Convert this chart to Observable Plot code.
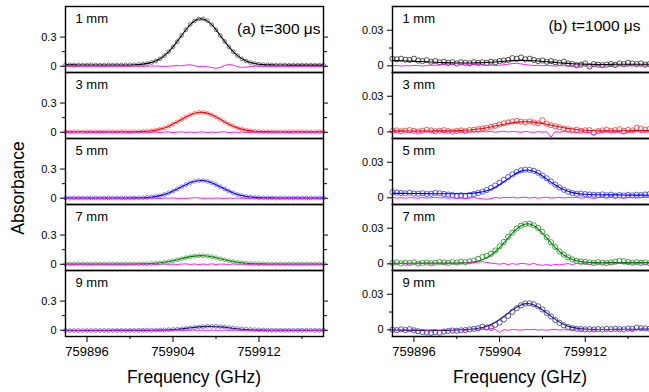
<!DOCTYPE html>
<html><head><meta charset="utf-8">
<script src="https://cdn.jsdelivr.net/npm/d3@7"></script>
<script src="https://cdn.jsdelivr.net/npm/@observablehq/plot@0.6"></script>
<style>
body{margin:0;background:#fff;}
#wrap{position:relative;width:649px;height:392px;overflow:hidden;font-family:"Liberation Sans",Arial,sans-serif;color:#000;}
#wrap svg{position:absolute;top:0;}
.lab{position:absolute;font-size:17.5px;white-space:nowrap;transform:translate(-50%,-50%);}
</style></head><body><div id="wrap"></div>
<script>
// ---------- data ----------
const distances = ["1 mm","3 mm","5 mm","7 mm","9 mm"];
const dotColors = ["#2a2a2a","#ff3030","#3535ff","#1a8a1a","#34349a"];
const lineColors = ["#000000","#ff0000","#0000ff","#008000","#1a1a80"];
const residualColor = "#ff00ff";
const titles = ["(a) t=300 \u03bcs","(b) t=1000 \u03bcs"];
const xMajor = [759896, 759904, 759912];
const xMinor = [759900, 759908, 759916];
const yMajorLeft = [0, 0.3], yMinorLeft = [0.15];
const yMajorRight = [0, 0.03], yMinorRight = [0.015];

// frequency grid of the measured points (GHz)
const freq = [759894,759894.4,759894.8,759895.2,759895.6,759896,759896.4,759896.8,759897.2,759897.6,
759898,759898.4,759898.8,759899.2,759899.6,759900,759900.4,759900.8,759901.2,759901.6,
759902,759902.4,759902.8,759903.2,759903.6,759904,759904.4,759904.8,759905.2,759905.6,
759906,759906.4,759906.8,759907.2,759907.6,759908,759908.4,759908.8,759909.2,759909.6,
759910,759910.4,759910.8,759911.2,759911.6,759912,759912.4,759912.8,759913.2,759913.6,
759914,759914.4,759914.8,759915.2,759915.6,759916,759916.4,759916.8,759917.2,759917.6,759918];
// frequency grid of the fitted curves (GHz)
const fitFreq = [759894,759894.8,759895.6,759896.4,759897.2,759898,759898.8,759899.6,759900.4,759901.2,
759902,759902.8,759903.6,759904.4,759905.2,759906,759906.8,759907.6,759908.4,759909.2,
759910,759910.8,759911.6,759912.4,759913.2,759914,759914.8,759915.6,759916.4,759917.2,759918];

// (a) t = 300 us : measured absorbance
const a1mm = [.014,.015,.013,.014,.012,.013,.014,.013,.012,.013,
.014,.013,.012,.013,.014,.015,.016,.018,.022,.028,
.038,.054,.077,.109,.150,.199,.253,.316,.375,.430,
.465,.485,.487,.468,.427,.375,.316,.256,.199,.150,
.109,.077,.054,.038,.027,.021,.017,.015,.013,.012,
.013,.012,.011,.012,.013,.012,.011,.012,.011,.012,.011];
const a3mm = [.005,.004,.006,.005,.004,.005,.006,.005,.004,.005,
.006,.005,.004,.005,.006,.005,.006,.007,.009,.011,
.016,.022,.032,.045,.063,.083,.107,.133,.157,.179,
.195,.204,.204,.195,.179,.157,.133,.107,.083,.063,
.045,.032,.022,.016,.011,.009,.007,.006,.005,.004,
.005,.006,.005,.004,.005,.006,.005,.004,.005,.006,.005];
const a5mm = [.003,.002,.004,.003,.002,.003,.004,.003,.002,.003,
.004,.003,.003,.004,.003,.004,.004,.005,.006,.009,
.013,.019,.027,.039,.055,.074,.095,.118,.140,.160,
.174,.182,.182,.174,.160,.140,.118,.095,.074,.055,
.039,.027,.019,.013,.009,.006,.005,.004,.003,.002,
.003,.004,.003,.002,.003,.003,.002,.003,.004,.003,.002];
const a7mm = [.003,.002,.003,.004,.003,.002,.003,.003,.002,.003,
.004,.003,.002,.003,.003,.002,.003,.004,.005,.006,
.008,.010,.015,.020,.028,.036,.047,.057,.068,.077,
.084,.088,.088,.084,.077,.068,.057,.047,.036,.028,
.020,.015,.010,.008,.006,.005,.004,.003,.003,.002,
.003,.003,.004,.003,.002,.003,.003,.002,.003,.004,.003];
const a9mm = [-.002,-.003,-.002,-.002,-.003,-.002,-.002,-.001,-.002,-.002,
-.001,-.002,-.001,-.001,-.002,-.001,-.001,0,0,.001,
.001,.002,.003,.004,.006,.008,.011,.014,.018,.023,
.028,.033,.037,.040,.041,.040,.037,.033,.028,.023,
.018,.014,.011,.008,.006,.004,.003,.002,.001,.001,
0,.001,0,0,.001,0,0,.001,0,0,.001];
// (a) fitted curves
const a1mmFit = [.014,.014,.013,.013,.013,.013,.013,.013,.015,.022,
.038,.077,.150,.256,.375,.465,.485,.427,.316,.199,
.109,.054,.028,.017,.014,.013,.012,.012,.012,.012,.012];
const a3mmFit = [.005,.005,.005,.005,.005,.005,.005,.005,.006,.009,
.016,.032,.063,.107,.157,.195,.204,.179,.133,.083,
.045,.022,.011,.007,.006,.005,.005,.005,.005,.005,.005];
const a5mmFit = [.003,.003,.003,.003,.003,.003,.003,.003,.004,.006,
.013,.027,.055,.095,.140,.174,.182,.160,.118,.074,
.039,.019,.009,.005,.004,.003,.003,.003,.003,.003,.003];
const a7mmFit = [.003,.003,.003,.003,.003,.003,.003,.003,.003,.005,
.008,.015,.028,.047,.068,.084,.088,.077,.057,.036,
.020,.010,.006,.004,.003,.003,.003,.003,.003,.003,.003];
const a9mmFit = [-.002,-.002,-.002,-.002,-.0018,-.0016,-.0015,-.0013,-.0012,-.0009,
-.0003,.0012,.0046,.0108,.0198,.0299,.0375,.0393,.0344,.0252,
.0154,.0079,.0033,.0011,.0004,.0001,0,0,0,0,0];
// (a) residuals
const a1mmRes = [0,.001,-.001,0,.002,0,-.001,.001,0,-.002,
0,.001,.002,0,-.001,0,.002,.001,-.001,0,
.002,.003,0,-.002,0,.004,.008,.004,.012,.016,
.006,-.004,.002,-.006,-.012,-.02,-.014,.008,.018,.012,
-.004,-.012,-.008,-.003,0,.002,-.001,.001,0,-.001,
0,.001,0,-.001,0,0,.001,0,-.001,0,0];
const a3mmRes = [0,-.001,.001,0,.002,-.001,0,.001,-.002,0,
.001,0,-.001,.002,0,-.002,.001,0,.002,-.001,
0,.003,-.002,.001,.004,-.003,.002,.005,-.002,.003,
-.004,.002,.004,-.003,.002,-.002,.003,.005,-.004,.002,
-.001,.002,0,-.002,.001,0,-.001,.002,0,-.001,
.001,0,-.002,.001,0,.001,-.001,0,.001,0,0];
const a5mmRes = [0,.001,0,-.001,0,.001,0,-.001,.001,0,
-.001,0,.001,0,-.001,0,.001,.002,0,-.002,
.001,0,-.002,.002,0,.003,-.002,.001,-.003,.002,
.006,.004,-.003,.002,-.002,.003,0,-.003,.002,-.001,
.002,0,-.002,.001,0,-.001,.001,0,0,.001,
0,-.001,0,.001,0,0,-.001,0,.001,0,0];
const a7mmRes = [.001,0,-.001,0,.001,0,-.001,0,.001,0,
0,-.001,.001,0,-.001,.001,0,.002,-.001,0,
.002,-.002,.001,.003,-.002,.002,-.003,.002,.004,-.002,
.003,-.003,.002,-.002,.004,-.003,.002,.001,-.002,.003,
-.001,.002,0,-.002,.001,0,.001,-.001,0,.001,
0,-.001,.001,0,0,-.001,.001,0,0,-.001,0];
const a9mmRes = [0,.001,0,-.001,0,.001,-.001,0,.001,0,
0,-.001,.001,0,0,.001,-.001,0,.001,0,
-.001,.001,0,.002,-.001,.001,.002,-.002,.001,0,
.002,-.001,.001,-.002,.002,0,-.001,.002,-.001,.001,
0,-.001,.001,0,-.001,.001,0,0,-.001,0,
.001,0,0,-.001,0,.001,0,-.001,0,0,0];

// (b) t = 1000 us : measured absorbance
const b1mm = [.006,.0055,.006,.0052,.005,.006,.0045,.004,.0048,.0035,
.004,.003,.0035,.0025,.003,.002,.003,.0025,.0022,.003,
.0025,.003,.0025,.0035,.003,.004,.0045,.005,.0065,.006,
.007,.0055,.006,.005,.004,.0045,.0035,.004,.003,.0025,
.0035,.002,.0015,.0005,.001,.002,-.0005,.0015,.001,.0005,
.001,.0015,.0008,.002,.0015,.0025,.002,.0015,.002,.001,.0015];
const b3mm = [.0008,.0012,.0005,.001,.0015,.0008,.0003,.001,.0018,.0012,
.0005,.0009,.0014,.0007,.0002,.0008,.0012,.0006,.0015,.0018,
.0022,.0028,.0034,.0042,.0051,.0062,.0072,.0079,.0088,.0092,
.0086,.0082,.0088,.0079,.0072,.0098,.0068,.0056,.0046,.0038,
.0028,.0022,.0012,.0018,.0008,.0012,.0015,-.0004,.0006,.0012,
.0018,.0009,.0014,.0022,.0008,.0016,.0012,.0035,.0028,.0018,.0024];
const b5mm = [.0048,.0044,.0041,.0038,.0043,.0036,.0034,.0039,.0032,.0035,
.0042,.0038,.0033,.0028,.0024,.0018,.0022,.0016,.0025,.0032,
.0041,.0052,.0066,.0085,.0104,.0128,.0152,.0175,.0198,.0218,
.0232,.0238,.0236,.0228,.0212,.0188,.0165,.0138,.0112,.0088,
.0068,.0052,.0041,.0034,.0036,.0031,.0028,.0026,.0024,.0029,
.0022,.0027,.0019,.0024,.002,.0025,.0021,.0026,.0023,.0028,.0032];
const b7mm = [.0008,.0012,.0004,.0009,.0006,.0013,.0002,.0008,.0011,.0005,
.001,.0016,.0012,.0008,.0015,.0011,.0018,.0014,.0021,.0028,
.0042,.0058,.0068,.0085,.0112,.0148,.0185,.0228,.0262,.0298,
.0322,.0336,.0338,.0325,.0302,.0268,.0225,.0182,.0142,.0105,
.0078,.0055,.0038,.0026,.002,.0016,.0012,.0008,.0014,.001,
.0007,.0012,.0018,.0025,.0022,.0015,.0009,.0013,.0008,.0012,.0006];
const b9mm = [.0002,-.0003,.0004,-.0002,.0006,-.0004,-.0012,-.0018,-.0022,-.0026,
-.0019,-.0024,-.0015,-.001,-.0006,-.0008,-.0004,-.0002,.0004,.0008,
.0014,.0026,.0019,.0016,.0042,.0062,.0088,.0118,.0152,.0182,
.0206,.0222,.0224,.0216,.0198,.0172,.0142,.0112,.0082,.0058,
.0038,.0024,.0014,.0009,.0006,.0004,.0005,.0003,.0006,.0004,
.0008,.0005,.0009,.0006,.0004,.0011,.0008,.0018,.0014,.0012,.0009];
// (b) fitted curves
const b1mmFit = [.0045,.0043,.004,.0037,.0034,.003,.0027,.0025,.0024,.0024,
.0025,.0028,.0033,.0039,.0044,.0046,.0045,.0041,.0035,.0029,
.0023,.0018,.0015,.0013,.0012,.0012,.0013,.0013,.0013,.0013,.0013];
const b3mmFit = [.0008,.0008,.0007,.0007,.0007,.0008,.0008,.0009,.0011,.0016,
.0024,.0035,.0049,.0064,.0076,.0084,.0084,.0076,.0064,.0049,
.0035,.0024,.0016,.0011,.0009,.0008,.0008,.0009,.001,.0011,.0012];
const b5mmFit = [.0038,.0038,.0037,.0037,.0036,.0035,.0035,.0034,.0035,.0037,
.0044,.0059,.009,.0136,.0187,.0225,.0233,.0207,.0158,.0108,
.0068,.0044,.0032,.0028,.0026,.0025,.0025,.0024,.0023,.0023,.0022];
const b7mmFit = [.0005,.0005,.0005,.0006,.0006,.0006,.0006,.0006,.0008,.0012,
.0024,.0052,.0102,.0176,.0259,.0321,.0336,.0295,.0219,.0137,
.0075,.0037,.0019,.0012,.001,.001,.001,.001,.001,.001,.001];
const b9mmFit = [0,-.0002,-.0004,-.0005,-.0006,-.0006,-.0005,-.0003,.0001,.0004,
.0013,.0031,.0064,.0113,.0168,.021,.022,.0193,.0142,.0088,
.0046,.0021,.0009,.0004,.0003,.0003,.0004,.0005,.0005,.0006,.0007];
// (b) residuals
const b1mmRes = [0,.0003,-.0002,.0002,0,.0004,.0002,-.0001,.0003,.0006,
.0004,.0008,.0012,.0016,.0014,.0018,.0015,.0017,.0013,.0016,
.0012,.0008,.0004,.0006,.0002,.0005,.0009,.0014,.0019,.0022,
.0016,.0011,.0006,.0003,.0005,.0001,.0004,.0002,-.0002,.0003,
.0001,-.0003,.0002,-.0004,.0001,.0003,-.0002,0,.0002,-.0003,
.0001,.0003,-.0001,.0002,0,-.0002,.0003,.0001,-.0001,.0002,0];
const b3mmRes = [.0002,-.0003,.0004,0,-.0002,.0003,-.0004,.0001,.0005,-.0002,
0,.0003,-.0004,.0002,-.0001,.0004,0,-.0003,.0002,.0004,
-.0002,.0003,0,.0005,-.0003,.0002,.0006,-.0002,.0004,.0001,
-.0004,.0003,-.0001,-.0005,.0002,-.0003,.0001,-.0045,.0002,-.0004,
.0003,-.0002,.0001,-.0006,.0002,-.0003,-.0008,-.003,.0001,-.0004,
.0002,-.0003,.0001,-.0005,-.002,.0003,-.0002,.0004,-.0006,.0002,-.0003];
const b5mmRes = [.0004,-.0002,.0001,-.0003,.0002,0,-.0004,.0003,-.0002,.0001,
.0005,-.0001,.0002,-.0003,0,-.0005,-.0002,-.0006,-.0003,.0002,
-.0004,-.0008,-.0012,-.0006,.0003,-.0002,.0004,.0001,.0006,-.0002,
.0003,.0005,-.0001,.0004,-.0003,.0002,.0006,-.0002,.0001,.0004,
-.0002,.0003,.0001,.0005,-.0003,.0002,0,-.0004,.0001,.0003,
-.0002,.0004,0,.0002,-.0003,.0001,.0003,-.0001,.0002,.0004,.0001];
const b7mmRes = [.0003,-.0002,.0004,.0001,-.0003,.0005,-.0001,.0002,.0006,-.0002,
.0001,.0004,-.0003,.0002,.0005,-.0001,.0003,.0008,.0006,.0011,
.0014,.0018,.0012,.0006,.0002,-.0003,.0004,-.0006,.0002,-.0004,
.0003,.0001,-.0005,.0004,-.0008,-.0012,-.0006,-.0014,-.0004,-.0009,
-.0003,.0002,-.0006,.0004,-.0002,.0003,-.0004,.0001,.0005,-.0002,
.0003,-.0003,.0002,.0006,-.0001,.0004,-.0002,.0003,.0001,-.0003,.0002];
const b9mmRes = [.0003,-.0002,.0001,.0004,-.0003,.0002,-.0001,.0003,-.0004,.0001,
.0002,-.0003,.0004,0,-.0002,.0003,.0001,-.0004,.0002,.0003,
-.0001,.0008,.0003,.0012,.0004,-.0022,.0002,-.0003,.0004,.0001,
-.0002,.0003,.0001,.0004,-.0002,.0002,-.0003,.0001,.0004,-.0002,
.0002,-.0001,.0003,0,-.0002,.0004,.0001,-.0003,.0002,.0005,
-.0001,.0003,.0002,-.0002,.0004,.0001,-.0003,.0002,.0006,.0003,.0001];

// ---------- build tables ----------
function table(xs, series, colors) {
  const out = [];
  series.forEach((s, i) => xs.forEach((f, k) => out.push({d: distances[i], f, v: s[k], c: colors ? colors[i] : null})));
  return out;
}
const font = '"Liberation Sans", Arial, sans-serif';

function column({data, fits, res, yDomain, yMajor, yMinor, title, width, marginLeft, marginRight, r, dotWidth, titleDx, titleDy, rightFrame}) {
  const frameMarks = rightFrame
    ? [Plot.frame({stroke: "#000", strokeWidth: 1.4})]
    : [Plot.frame({anchor: "left", stroke: "#000", strokeWidth: 1.4}),
       Plot.frame({anchor: "top", stroke: "#000", strokeWidth: 1.4}),
       Plot.frame({anchor: "bottom", stroke: "#000", strokeWidth: 1.4})];
  return Plot.plot({
    width, height: 392, marginTop: 6, marginBottom: 56, marginLeft, marginRight,
    x: {domain: [759894, 759918], label: null},
    y: {domain: yDomain, label: null},
    fy: {domain: distances, axis: null, padding: 0, label: null},
    color: {type: "identity"},
    style: {fontFamily: font, fontSize: "11px", color: "#000", background: "transparent", overflow: "visible"},
    marks: [
      Plot.dot(table(freq, data, dotColors), {x: "f", y: "v", fy: "d", stroke: "c", r, strokeWidth: dotWidth}),
      Plot.line(table(fitFreq, fits, lineColors), {x: "f", y: "v", fy: "d", z: "d", stroke: "c", curve: "natural", strokeWidth: 1.1}),
      Plot.line(table(freq, res, null), {x: "f", y: "v", fy: "d", z: "d", stroke: residualColor, strokeWidth: 0.9}),
      ...frameMarks,
      Plot.axisY({ticks: yMajor, tickSize: 5, tickPadding: 4, tickFormat: d => String(d), label: null}),
      Plot.axisY({ticks: yMinor, tickSize: 3, fill: "none", label: null}),
      Plot.axisY({ticks: yMajor, anchor: "right", tickSize: 4, fill: "none", label: null}),
      Plot.axisY({ticks: yMinor, anchor: "right", tickSize: 3, fill: "none", label: null}),
      Plot.axisX({ticks: xMajor, tickSize: 6, tickPadding: 4, tickFormat: d => String(d), label: null}),
      Plot.axisX({ticks: xMinor, tickSize: 3, fill: "none", label: null}),
      Plot.text(distances, {fy: d => d, text: d => d, frameAnchor: "top-left", lineAnchor: "top", dx: 10, dy: 7, fontSize: 13}),
      Plot.text([title], {fy: () => distances[0], text: d => d, frameAnchor: "top-right", textAnchor: "end", lineAnchor: "top", dx: titleDx, dy: titleDy, fontSize: 15.5})
    ]
  });
}

const wrap = document.getElementById("wrap");
const left = column({
  data: [a1mm, a3mm, a5mm, a7mm, a9mm], fits: [a1mmFit, a3mmFit, a5mmFit, a7mmFit, a9mmFit],
  res: [a1mmRes, a3mmRes, a5mmRes, a7mmRes, a9mmRes],
  yDomain: [-0.064, 0.614], yMajor: yMajorLeft, yMinor: yMinorLeft, title: titles[0],
  width: 330, marginLeft: 65, marginRight: 7, r: 1.9, dotWidth: 0.6, titleDx: -3, titleDy: 16.5, rightFrame: true
});
left.style.left = "0px";
wrap.appendChild(left);
const right = column({
  data: [b1mm, b3mm, b5mm, b7mm, b9mm], fits: [b1mmFit, b3mmFit, b5mmFit, b7mmFit, b9mmFit],
  res: [b1mmRes, b3mmRes, b5mmRes, b7mmRes, b9mmRes],
  yDomain: [-0.0056, 0.05], yMajor: yMajorRight, yMinor: yMinorRight, title: titles[1],
  width: 320, marginLeft: 62, marginRight: 1, r: 2.6, dotWidth: 0.8, titleDx: -9, titleDy: 13, rightFrame: false
});
right.style.left = "330px";
wrap.appendChild(right);

// x tick labels are larger (13px) than the y tick labels (11px) in the reference
const xLabelSet = new Set(xMajor.map(String));
for (const svg of [left, right]) {
  svg.querySelectorAll("text").forEach(t => {
    if (xLabelSet.has(t.textContent.trim())) t.style.fontSize = "13px";
  });
}

function label(text, x, y, rotate) {
  const el = document.createElement("div");
  el.className = "lab";
  el.textContent = text;
  el.style.left = x + "px";
  el.style.top = y + "px";
  if (rotate) el.style.transform = "translate(-50%,-50%) rotate(-90deg)";
  wrap.appendChild(el);
}
label("Absorbance", 17.5, 188, true);
label("Frequency (GHz)", 194, 377, false);
label("Frequency (GHz)", 520, 377, false);
</script>
</body></html>
